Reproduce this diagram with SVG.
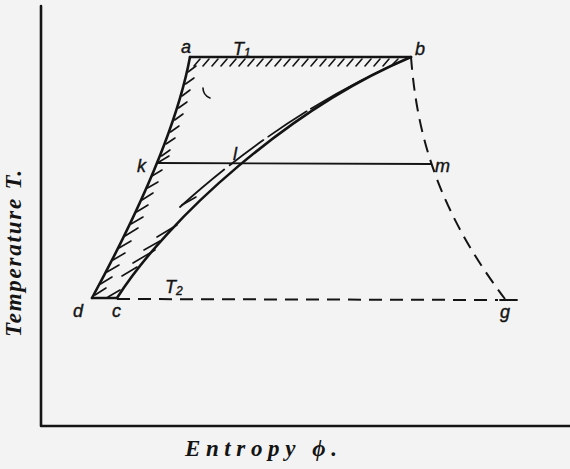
<svg xmlns="http://www.w3.org/2000/svg" width="570" height="469" viewBox="0 0 570 469">
<defs>
<style>
.ln{fill:none;stroke:#141414;stroke-linecap:round;stroke-linejoin:round}
.main{stroke-width:2.6}
.thin{stroke-width:1.8}
.h{stroke-width:1.6}
.dash{stroke-width:2;stroke-dasharray:13 8;stroke-linecap:butt}
.lbl{font-family:"Liberation Sans",Arial,sans-serif;font-style:italic;font-size:18px;fill:#141414;stroke:#141414;stroke-width:0.4}
.ax{font-family:"Liberation Serif","Times New Roman",serif;font-style:italic;font-weight:bold;font-size:23px;fill:#141414}
</style>
</defs>
<rect width="570" height="469" fill="#f3f3f3"/>
<g id="axes">
<path class="ln main" d="M41,6 L41,426 L570,426"/>
</g>
<g id="connectors">
<path id="ab" class="ln main" d="M190,57 L411,57"/>
<path id="akd" class="ln main" d="M190,57 Q173,148.5 92,298"/>
<path id="dc" class="ln main" d="M92,298 L117,298"/>
<path id="cb" class="ln main" d="M117,298 C168,218 290,108 411,57"/>
<path id="cb2" class="ln thin" d="M180,207 C218,173 298,105 411,57" stroke-dasharray="58 7 42 6 46 5 300"/>
<path id="km" class="ln thin" d="M157,163 L431,164"/>
<path id="bmg" class="ln dash" d="M411,57 C416,120 430,200 505,299"/>
<path id="cg" class="ln dash" d="M117,299 L498,300"/>
<path class="ln thin" d="M500,300 L517,300"/>
<path class="ln h" d="M203,88 Q203,95 210,98"/>
</g>
<g id="hatch" class="ln h">
<path d="M200,59 L194,66 M209,59 L203,66 M218,59 L212,66 M227,59 L221,66 M236,59 L230,66 M245,59 L239,66 M254,59 L248,66 M263,59 L257,66 M272,59 L266,66 M281,59 L275,66 M290,59 L284,66 M299,59 L293,66 M308,59 L302,66 M317,59 L311,66 M326,59 L320,66 M335,59 L329,66 M344,59 L338,66 M353,59 L347,66 M362,59 L356,66 M371,59 L365,66 M380,59 L374,66 M389,59 L383,66 M398,59 L393,64"/>
<path d="M188,72 L196,66 M185.5,84 L194,78 M182,96 L190,90 M178.5,108 L187,102 M174.7,120 L183,114 M170.5,132 L179,126 M166,144 L175,138 M161.5,156 L170,150 M159,162 L169,156"/>
<path d="M152,176 L162,170 M147.5,188 L158,182 M142,200 L153,193 M136.5,212 L148,205 M131,224 L143,217 M125,236 L138,228 M119,248 L131,241 M113,260 L125,253 M107,272 L119,265 M100.5,284 L112,277 M95,295 L106,288"/>
<path d="M182,205 L196,197 M157,237 L177,225 M133,263 L155,250 M122,276 L137,267 M108,297 L120,290 M144,250 L160,241"/>
</g>
<g id="a"><text class="lbl" x="181" y="53">a</text></g>
<g id="T1"><text class="lbl" x="233" y="55">T<tspan font-size="12" dy="2">1</tspan></text></g>
<g id="b"><text class="lbl" x="415" y="55">b</text></g>
<g id="k"><text class="lbl" x="137" y="172">k</text></g>
<g id="l"><text class="lbl" x="233" y="160">l</text></g>
<g id="m"><text class="lbl" x="435" y="172">m</text></g>
<g id="d"><text class="lbl" x="73" y="317">d</text></g>
<g id="c"><text class="lbl" x="112" y="317">c</text></g>
<g id="T2"><text class="lbl" x="165" y="293">T<tspan font-size="12" dy="2">2</tspan></text></g>
<g id="g"><text class="lbl" x="500" y="318">g</text></g>
<g id="ylabel"><text class="ax" transform="translate(21,337) rotate(-90)" textLength="167" lengthAdjust="spacing">Temperature T.</text></g>
<g id="xlabel"><text class="ax" x="185" y="456" textLength="152" lengthAdjust="spacing">Entropy ϕ.</text></g>
</svg>
